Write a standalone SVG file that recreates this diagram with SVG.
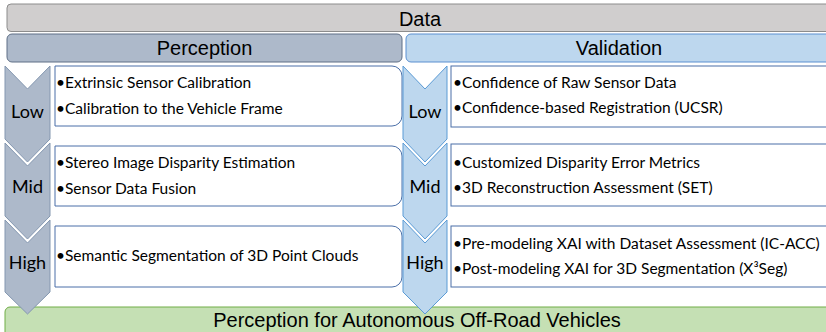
<svg xmlns="http://www.w3.org/2000/svg" width="826" height="332" viewBox="0 0 826 332">
<style>
.hdr{font-family:"Liberation Sans",Arial,sans-serif;font-size:20px;fill:#000;text-anchor:middle}
.item{font-family:Lato,"Open Sans",sans-serif;font-size:15.5px;fill:#000}
.lvl{font-family:Lato,"Open Sans",sans-serif;font-size:18px;fill:#000;text-anchor:middle}
.chevP{fill:#ADB9CA;stroke:#8497B0;stroke-width:1}
.chevV{fill:#BDD7EE;stroke:#5B9BD5;stroke-width:1}
.boxP{fill:#fff;stroke:#4A6FA8;stroke-width:1}
.boxV{fill:#fff;stroke:#4A6FA8;stroke-width:1}
</style>
<rect width="826" height="332" fill="#fff"/>
<g id="data">
<rect x="7" y="4" width="828" height="27.5" rx="4" fill="#D0CECE" stroke="#8C8C8C" stroke-width="1"/>
<text class="hdr" x="420" y="26">Data</text>
</g>
<g id="perception">
<rect x="7" y="34" width="395" height="28" rx="5" fill="#ADB9CA" stroke="#5F6F86" stroke-width="1"/>
<text class="hdr" x="204.5" y="55">Perception</text>
</g>
<g id="validation">
<rect x="406" y="34" width="428" height="28" rx="5" fill="#BDD7EE" stroke="#5B8FD0" stroke-width="1"/>
<text class="hdr" x="619" y="55">Validation</text>
</g>
<g id="goal">
<rect x="5" y="307" width="830" height="30" rx="5" fill="#C5E0B4" stroke="#70AD47" stroke-width="1"/>
<text class="hdr" x="417" y="326.5">Perception for Autonomous Off-Road Vehicles</text>
</g>
<g id="p-low">
<path class="boxP" d="M55,66 H392 A10,10 0 0 1 402,76 V116 A10,10 0 0 1 392,126 H55 Z"/>
<path class="chevP" d="M5,66 L27.5,89 L50,66 V139 L27.5,162 L5,139 Z"/>
<text class="lvl" x="27.5" y="118">Low</text>
<text class="item" x="56" y="88">•Extrinsic Sensor Calibration</text>
<text class="item" x="56" y="114">•Calibration to the Vehicle Frame</text>
</g>
<g id="p-mid">
<path class="boxP" d="M55,146 H392 A10,10 0 0 1 402,156 V196 A10,10 0 0 1 392,206 H55 Z"/>
<path class="chevP" d="M5,143 L27.5,166 L50,143 V216 L27.5,239 L5,216 Z"/>
<text class="lvl" x="27.5" y="193">Mid</text>
<text class="item" x="56" y="168">•Stereo Image Disparity Estimation</text>
<text class="item" x="56" y="194">•Sensor Data Fusion</text>
</g>
<g id="p-high">
<path class="boxP" d="M55,226 H392 A10,10 0 0 1 402,236 V277 A10,10 0 0 1 392,287 H55 Z"/>
<path class="chevP" d="M5,220 L27.5,243 L50,220 V292 L27.5,314 L5,292 Z"/>
<text class="lvl" x="27.5" y="269">High</text>
<text class="item" x="56" y="261">•Semantic Segmentation of 3D Point Clouds</text>
</g>
<g id="v-low">
<rect class="boxV" x="451" y="66" width="390" height="61"/>
<path class="chevV" d="M403,66 L425,89 L447,66 V139 L425,162 L403,139 Z"/>
<text class="lvl" x="425" y="118">Low</text>
<text class="item" x="453" y="88">•Confidence of Raw Sensor Data</text>
<text class="item" x="453" y="113">•Confidence-based Registration (UCSR)</text>
</g>
<g id="v-mid">
<rect class="boxV" x="451" y="144" width="390" height="62"/>
<path class="chevV" d="M403,143 L425,166 L447,143 V216 L425,239 L403,216 Z"/>
<text class="lvl" x="425" y="193">Mid</text>
<text class="item" x="453" y="168">•Customized Disparity Error Metrics</text>
<text class="item" x="453" y="193">•3D Reconstruction Assessment (SET)</text>
</g>
<g id="v-high">
<rect class="boxV" x="451" y="226" width="390" height="61"/>
<path class="chevV" d="M403,220 L425,243 L447,220 V292 L425,314 L403,292 Z"/>
<text class="lvl" x="425" y="269">High</text>
<text class="item" x="453" y="249">•Pre-modeling XAI with Dataset Assessment (IC-ACC)</text>
<text class="item" x="453" y="274">•Post-modeling XAI for 3D Segmentation (X³Seg)</text>
</g>
<g id="connectors"></g>
</svg>
